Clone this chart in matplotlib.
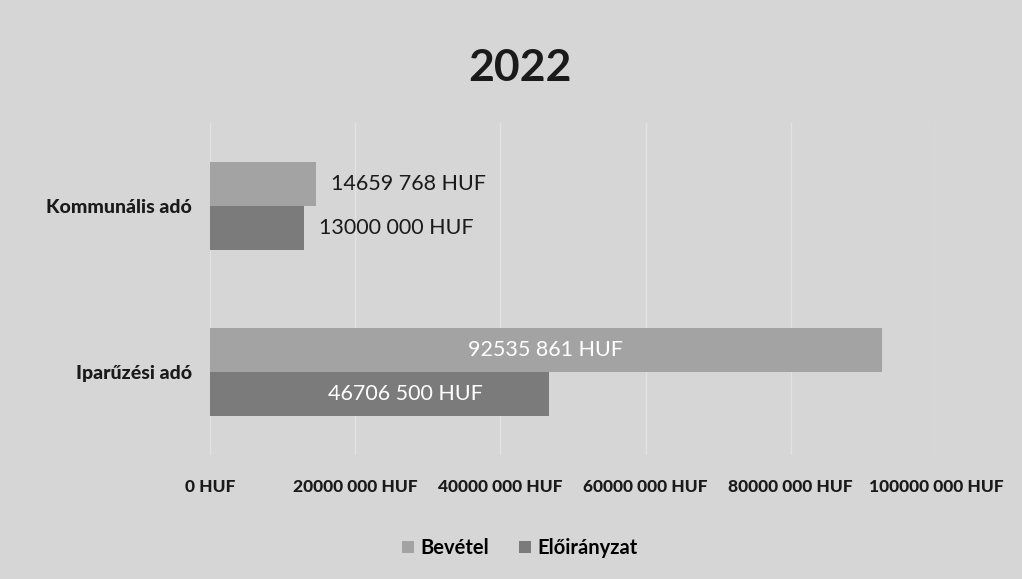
import numpy as np
from matplotlib import pyplot as plt

# data
categories = ["Iparűzési adó", "Kommunális adó"]
bevetel = [92535861, 14659768]
eloiranyzat = [46706500, 13000000]
bevetel_labels = ["92535 861 HUF", "14659 768 HUF"]
eloiranyzat_labels = ["46706 500 HUF", "13000 000 HUF"]
xticks = [0, 20000000, 40000000, 60000000, 80000000, 100000000]
xtick_labels = ["0 HUF", "20000 000 HUF", "40000 000 HUF", "60000 000 HUF",
                "80000 000 HUF", "100000 000 HUF"]

bg = "#d6d6d6"
c_bev = "#a3a3a3"
c_elo = "#7b7b7b"

plt.rcParams['font.family'] = ['Lato', 'DejaVu Sans']

fig = plt.figure(figsize=(10.22, 5.79), dpi=100, facecolor=bg)
ax = fig.add_axes([210/1022, 1-455/579, (936-210)/1022, (455-123)/579])
ax.set_facecolor(bg)

y = np.arange(len(categories))
h = 0.265
b1 = ax.barh(y + h/2, bevetel, height=h, color=c_bev, label="Bevétel")
b2 = ax.barh(y - h/2, eloiranyzat, height=h, color=c_elo, label="Előirányzat")

# data labels
for i in range(len(categories)):
    if bevetel[i] > 30000000:
        ax.text(bevetel[i]/2, y[i] + h/2, bevetel_labels[i], ha="center", va="center",
                color="white", fontsize=15.5)
    else:
        ax.text(bevetel[i] + 2000000, y[i] + h/2, bevetel_labels[i], ha="left", va="center",
                color="#1a1a1a", fontsize=15.5)
    if eloiranyzat[i] > 30000000:
        ax.text(eloiranyzat[i]/2 + 3500000, y[i] - h/2, eloiranyzat_labels[i], ha="center",
                va="center", color="white", fontsize=15.5)
    else:
        ax.text(eloiranyzat[i] + 2000000, y[i] - h/2, eloiranyzat_labels[i], ha="left",
                va="center", color="#1a1a1a", fontsize=15.5)

ax.set_xlim(0, 100000000)
ax.set_ylim(-0.5, 1.5)
ax.set_xticks(xticks)
ax.set_xticklabels(xtick_labels, fontsize=12.5, fontweight="black", color="#1a1a1a")
ax.set_yticks(y)
ax.set_yticklabels(categories, fontsize=14, fontweight="black", color="#1a1a1a")
ax.tick_params(length=0, pad=13)
ax.tick_params(axis="x", pad=17)
ax.grid(axis="x", color="#e2e2e2", linewidth=1)
ax.set_axisbelow(True)
for s in ax.spines.values():
    s.set_visible(False)

fig.text(520/1022, 1-68/579, "2022", ha="center", va="center", fontsize=32,
         fontweight="bold", color="#1a1a1a")
fig.legend(handles=[b1, b2], loc="center", bbox_to_anchor=(520/1022, 1-548/579),
           ncol=2, frameon=False, handlelength=0.6, handleheight=0.6,
           columnspacing=1.5, handletextpad=0.3,
           prop={"weight": "bold", "size": 14.5})

fig.savefig("out.png", dpi=100, facecolor=bg)
